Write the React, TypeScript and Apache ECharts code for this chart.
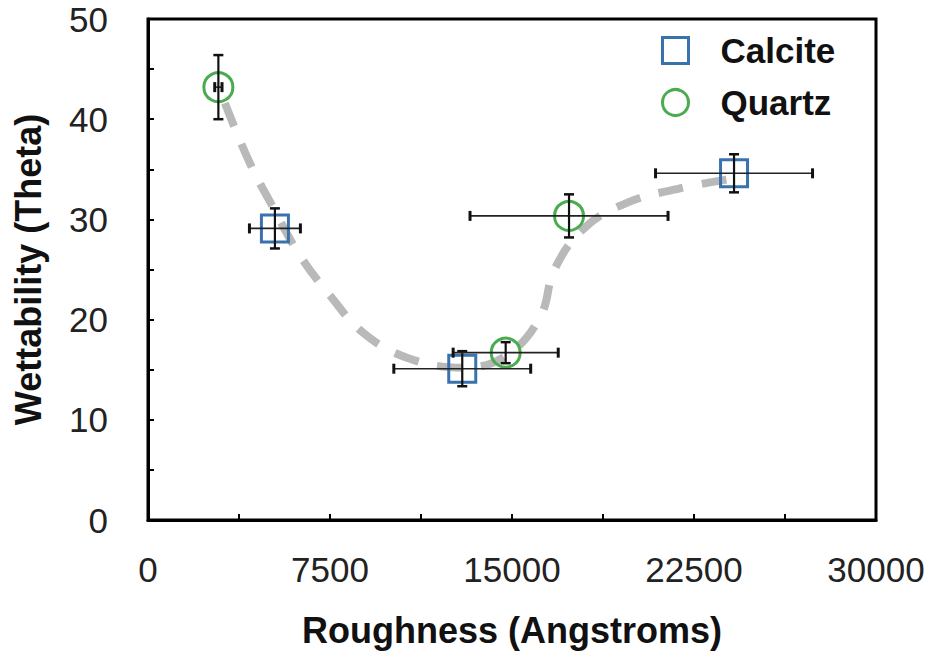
import React, { useEffect, useRef } from "react";
import * as echarts from "echarts";

const calciteX = [5230, 12950, 24150];
const calciteY = [29.1, 15.1, 34.6];
const calciteXErr = [1050, 2820, 3235];
const calciteYErr = [2.0, 1.75, 1.9];

const quartzX = [2900, 14740, 17350];
const quartzY = [43.2, 16.7, 30.35];
const quartzXErr = [150, 2165, 4080];
const quartzYErr = [3.2, 1.05, 2.15];

const trendX = [3170, 4200, 5110, 6260, 7500, 8860, 10670, 12980, 14750, 16150, 16770, 18010, 19780, 21920, 23900];
const trendY = [41.6, 35.6, 31.4, 26.4, 22.4, 18.7, 16.2, 15.2, 16.4, 20.2, 25.1, 29.2, 31.7, 33.1, 34.0];

const xTicks = { min: 0, max: 30000, interval: 7500 };
const yTicks = { min: 0, max: 50, interval: 10 };

const BLUE = "#3a72ad";
const GREEN = "#4bac4f";
const FONT = "'Liberation Sans', Arial, Helvetica, sans-serif";

function errData(xs: number[], ys: number[], ex: number[], ey: number[]) {
  return xs.map((x, i) => [x, ys[i], ex[i], ey[i]]);
}

function renderErr(params: any, api: any) {
  const x = api.value(0);
  const y = api.value(1);
  const ex = api.value(2);
  const ey = api.value(3);
  const pl = api.coord([x - ex, y]);
  const pr = api.coord([x + ex, y]);
  const pt = api.coord([x, y + ey]);
  const pb = api.coord([x, y - ey]);
  const cap = 5;
  const hStyle = { stroke: "#222", lineWidth: 1.6 };
  const vStyle = { stroke: "#111", lineWidth: 2.2 };
  return {
    type: "group",
    children: [
      { type: "line", shape: { x1: pl[0], y1: pl[1], x2: pr[0], y2: pr[1] }, style: hStyle },
      { type: "line", shape: { x1: pl[0], y1: pl[1] - cap, x2: pl[0], y2: pl[1] + cap }, style: { stroke: "#111", lineWidth: 3 } },
      { type: "line", shape: { x1: pr[0], y1: pr[1] - cap, x2: pr[0], y2: pr[1] + cap }, style: { stroke: "#111", lineWidth: 3 } },
      { type: "line", shape: { x1: pt[0], y1: pt[1], x2: pb[0], y2: pb[1] }, style: vStyle },
      { type: "line", shape: { x1: pt[0] - cap, y1: pt[1], x2: pt[0] + cap, y2: pt[1] }, style: { stroke: "#111", lineWidth: 2.5 } },
      { type: "line", shape: { x1: pb[0] - cap, y1: pb[1], x2: pb[0] + cap, y2: pb[1] }, style: { stroke: "#111", lineWidth: 2.5 } },
    ],
  };
}

export default function App() {
  const ref = useRef<HTMLDivElement>(null);
  useEffect(() => {
    if (!ref.current) return;
    const chart = echarts.init(ref.current, null, { renderer: "svg" });
    const axisCommon = {
      axisLine: { show: true, lineStyle: { color: "#000", width: 3 } },
      axisTick: { show: true, inside: true, length: 6, lineStyle: { color: "#000", width: 2 } },
      minorTick: { show: true, splitNumber: 2, length: 6, lineStyle: { color: "#000", width: 2 } },
      splitLine: { show: false },
      minorSplitLine: { show: false },
      axisLabel: { fontSize: 35, color: "#222", fontFamily: FONT, formatter: (v: number) => String(v) },
      nameTextStyle: { fontSize: 36, fontWeight: "bold", color: "#111", fontFamily: FONT },
    };
    chart.setOption({
      animation: false,
      backgroundColor: "#fff",
      grid: { left: 148, right: 56, top: 19, bottom: 139, show: true, borderColor: "#000", borderWidth: 3 },
      legend: {
        left: 656,
        top: 28,
        orient: "vertical",
        itemWidth: 26,
        itemHeight: 26,
        itemGap: 17,
        selectedMode: false,
        textStyle: { fontSize: 35, fontWeight: "bold", color: "#111", fontFamily: FONT, lineHeight: 34, padding: [0, 0, 0, 27] },
        data: [
          { name: "Calcite", icon: "rect", itemStyle: { color: "rgba(0,0,0,0)", borderColor: BLUE, borderWidth: 3 } },
          { name: "Quartz", icon: "circle", itemStyle: { color: "rgba(0,0,0,0)", borderColor: GREEN, borderWidth: 3 } },
        ],
      },
      xAxis: {
        type: "value",
        ...axisCommon,
        min: xTicks.min,
        max: xTicks.max,
        interval: xTicks.interval,
        name: "Roughness (Angstroms)",
        nameLocation: "middle",
        nameGap: 92,
        axisLabel: { ...axisCommon.axisLabel, margin: 32 },
      },
      yAxis: {
        type: "value",
        ...axisCommon,
        min: yTicks.min,
        max: yTicks.max,
        interval: yTicks.interval,
        name: "Wettability (Theta)",
        nameLocation: "middle",
        nameGap: 102,
        axisLabel: { ...axisCommon.axisLabel, margin: 40 },
      },
      series: [
        {
          name: "trend",
          type: "line",
          data: trendX.map((x, i) => [x, trendY[i]]),
          smooth: 0.4,
          showSymbol: false,
          symbol: "none",
          lineStyle: { color: "#b9b9b9", width: 8, type: [25, 19], cap: "butt" },
          z: 1,
          silent: true,
        },
        {
          name: "Calcite",
          type: "scatter",
          data: calciteX.map((x, i) => [x, calciteY[i]]),
          symbol: "rect",
          symbolSize: 27,
          itemStyle: { color: "rgba(0,0,0,0)", borderColor: BLUE, borderWidth: 3, opacity: 1 },
          z: 2,
        },
        {
          name: "Quartz",
          type: "scatter",
          data: quartzX.map((x, i) => [x, quartzY[i]]),
          symbol: "circle",
          symbolSize: 29,
          itemStyle: { color: "rgba(0,0,0,0)", borderColor: GREEN, borderWidth: 3, opacity: 1 },
          z: 2,
        },
        {
          name: "calciteErr",
          type: "custom",
          data: errData(calciteX, calciteY, calciteXErr, calciteYErr),
          encode: { x: 0, y: 1 },
          renderItem: renderErr,
          z: 3,
          silent: true,
        },
        {
          name: "quartzErr",
          type: "custom",
          data: errData(quartzX, quartzY, quartzXErr, quartzYErr),
          encode: { x: 0, y: 1 },
          renderItem: renderErr,
          z: 3,
          silent: true,
        },
      ],
    });
    return () => chart.dispose();
  }, []);
  return <div ref={ref} style={{ width: 932, height: 659, position: "absolute", left: 0, top: 0 }} />;
}
